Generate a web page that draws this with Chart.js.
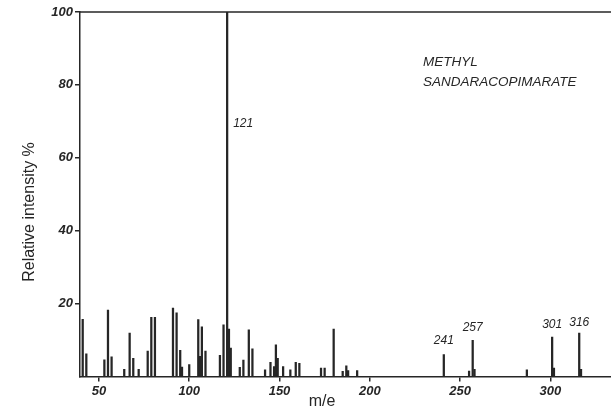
<!DOCTYPE html>
<html lang="en">
<head>
<meta charset="UTF-8">
<title>Methyl sandaracopimarate - mass spectrum</title>
<script src="https://cdn.jsdelivr.net/npm/chart.js@4.4.0/dist/chart.umd.min.js"></script>
<style>
  body { margin: 0; background: #fff; }
  .wrap { width: 611px; height: 409px; position: relative; }
</style>
</head>
<body>
<div class="wrap"><canvas id="chart"></canvas></div>
<script>
// m/e values and relative intensities (%)
const masses = [41, 43, 53, 55, 57, 64, 67, 69, 72, 77, 79, 81,
  91, 93, 95, 96, 100, 105, 106, 107, 109, 117, 119, 121, 122, 123,
  128, 130, 133, 135, 142, 145, 147, 148, 149, 152, 156, 159, 161,
  173, 175, 180, 185, 187, 188, 193,
  241, 255, 257, 258, 287, 301, 302, 316, 317];
const intensities = [15.7, 6.2, 4.6, 18.2, 5.4, 2, 11.9, 5, 2, 7, 16.2, 16.2,
  18.8, 17.5, 7.2, 2.6, 3.3, 15.6, 5.5, 13.6, 7, 5.8, 14.2, 100, 13, 7.8,
  2.5, 4.5, 12.8, 7.6, 1.8, 3.9, 2.7, 8.7, 5, 2.7, 1.8, 3.9, 3.6,
  2.3, 2.3, 13, 1.4, 2.9, 1.6, 1.6,
  6, 1.5, 9.9, 2, 1.8, 10.8, 2.3, 11.9, 2];

// labelled peaks and where their numbers sit (in % units)
const peakLabels = ['121', '241', '257', '301', '316'];
const peakLabelY = [69.5, 9.7, 13.4, 14.1, 14.7];

const xTicks = [50, 100, 150, 200, 250, 300];
const yTicks = [20, 40, 60, 80, 100];

const compoundName = ['METHYL', 'SANDARACOPIMARATE'];
const xTitle = 'm/e';
const yTitle = 'Relative intensity %';

const ink = '#262626';
const tickFont = { family: 'Liberation Sans', size: 13, style: 'italic', weight: 'bold' };

const extras = {
  id: 'extras',
  afterDraw(chart) {
    const { ctx, chartArea, scales } = chart;
    ctx.save();
    // top frame line
    ctx.strokeStyle = ink;
    ctx.lineWidth = 1.5;
    ctx.beginPath();
    ctx.moveTo(chartArea.left, chartArea.top);
    ctx.lineTo(chartArea.right, chartArea.top);
    ctx.stroke();

    ctx.fillStyle = ink;
    ctx.font = 'italic 12px "Liberation Sans"';
    ctx.textBaseline = 'middle';
    peakLabels.forEach((lab, i) => {
      const px = scales.x.getPixelForValue(Number(lab));
      const py = scales.y.getPixelForValue(peakLabelY[i]);
      if (i === 0) {
        ctx.textAlign = 'left';
        ctx.fillText(lab, px + 6, py);
      } else {
        ctx.textAlign = 'center';
        ctx.fillText(lab, px, py);
      }
    });

    // compound name
    ctx.font = 'italic 13.5px "Liberation Sans"';
    ctx.textAlign = 'left';
    ctx.fillText(compoundName[0], 423, 62);
    ctx.fillText(compoundName[1], 423, 82);

    // axis titles
    ctx.font = '16px "Liberation Sans"';
    ctx.textAlign = 'center';
    ctx.fillText(xTitle, 322, 402);
    ctx.translate(30, 212);
    ctx.rotate(-Math.PI / 2);
    ctx.fillText(yTitle, 0, 0);
    ctx.restore();
  }
};

const ctx = document.getElementById('chart').getContext('2d');
new Chart(ctx, {
  type: 'bar',
  data: {
    datasets: [{
      data: masses.map((m, i) => ({ x: m, y: intensities[i] })),
      backgroundColor: ink,
      barThickness: 1.6,
      grouped: false
    }]
  },
  options: {
    responsive: true,
    maintainAspectRatio: false,
    animation: false,
    layout: { padding: { top: 12, right: 0, left: 0, bottom: 0 } },
    plugins: { legend: { display: false }, tooltip: { enabled: false } },
    scales: {
      x: {
        type: 'linear',
        offset: false,
        min: 39.5,
        max: 333.6,
        afterBuildTicks(scale) { scale.ticks = xTicks.map(v => ({ value: v })); },
        afterFit(scale) { scale.height = 32.5; },
        border: { display: true, color: ink, width: 1.5 },
        grid: { display: true, offset: false, drawOnChartArea: false, drawTicks: true, tickLength: 5, color: ink, lineWidth: 1.5 },
        ticks: { color: ink, font: tickFont, padding: 2, maxRotation: 0, autoSkip: false }
      },
      y: {
        min: 0,
        max: 100,
        afterBuildTicks(scale) { scale.ticks = yTicks.map(v => ({ value: v })); },
        afterFit(scale) { scale.width = 80; },
        border: { display: true, color: ink, width: 1.5 },
        grid: { display: true, drawOnChartArea: false, drawTicks: true, tickLength: 5, color: ink, lineWidth: 1.5 },
        ticks: { color: ink, font: tickFont, padding: 2 }
      }
    }
  },
  plugins: [extras]
});
</script>
</body>
</html>
